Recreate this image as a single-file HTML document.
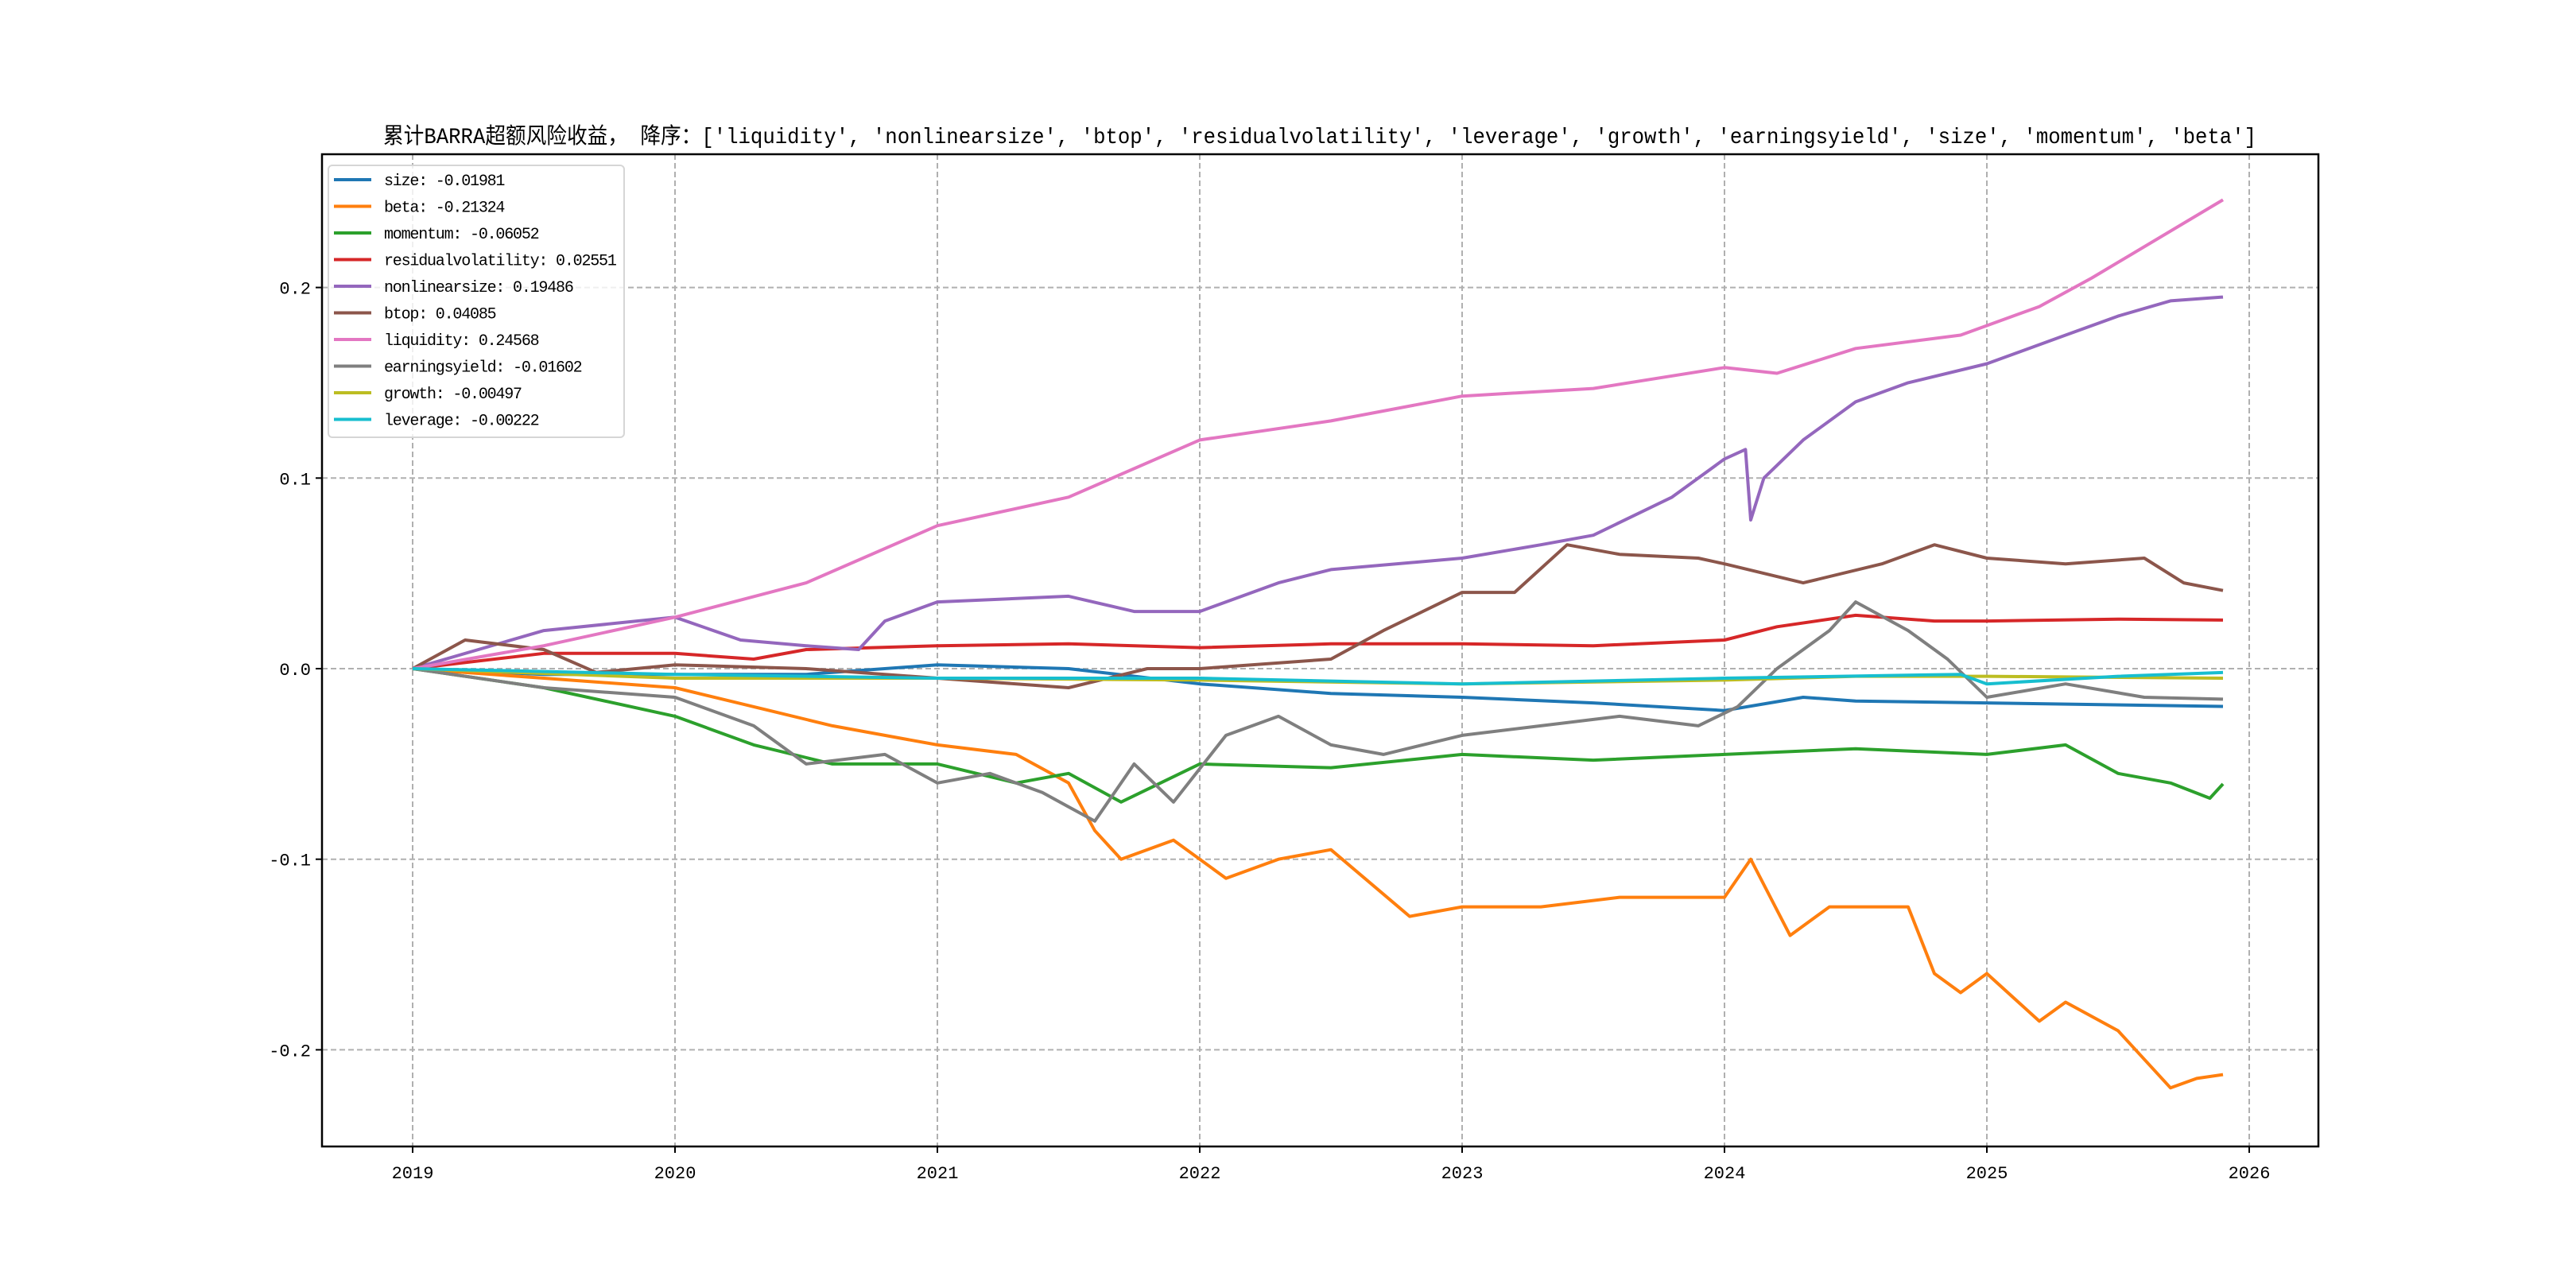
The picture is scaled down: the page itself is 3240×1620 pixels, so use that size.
<!DOCTYPE html>
<html><head><meta charset="utf-8">
<style>
html,body{margin:0;padding:0;background:#fff;}
svg{display:block;}
text{font-family:"Liberation Mono","Noto Sans CJK SC",monospace;fill:#000;}
</style></head>
<body>
<svg id="chart" width="3240" height="1620" viewBox="0 0 3240 1620" xmlns="http://www.w3.org/2000/svg">
<rect x="0" y="0" width="3240" height="1620" fill="#fff"/>
<text x="1660" y="180" text-anchor="middle" font-size="28" textLength="2356" lengthAdjust="spacingAndGlyphs" style="font-family:'Liberation Mono','Noto Sans CJK SC',sans-serif">累计BARRA超额风险收益，  降序：['liquidity', 'nonlinearsize', 'btop', 'residualvolatility', 'leverage', 'growth', 'earningsyield', 'size', 'momentum', 'beta']</text>
<g id="grid"></g>
<g id="series"></g>
<rect x="405" y="194" width="2511" height="1248" fill="none" stroke="#000" stroke-width="2.5"/>
<g id="axes"></g>
<g id="legend"></g>
</svg>
<script>
const xTicks = [2019,2020,2021,2022,2023,2024,2025,2026];
const yTicks = [-0.2,-0.1,0.0,0.1,0.2];
const yTickLabels = ["-0.2","-0.1","0.0","0.1","0.2"];
const seriesNames = ["size","beta","momentum","residualvolatility","nonlinearsize","btop","liquidity","earningsyield","growth","leverage"];
const seriesFinal = ["-0.01981","-0.21324","-0.06052","0.02551","0.19486","0.04085","0.24568","-0.01602","-0.00497","-0.00222"];
const seriesColors = ["#1f77b4","#ff7f0e","#2ca02c","#d62728","#9467bd","#8c564b","#e377c2","#7f7f7f","#bcbd22","#17becf"];

const sizeT=[2019,2019.5,2020,2020.5,2021,2021.5,2022,2022.5,2023,2023.5,2024,2024.3,2024.5,2025,2025.9];
const sizeV=[0,-0.003,-0.003,-0.003,0.002,0,-0.008,-0.013,-0.015,-0.018,-0.022,-0.015,-0.017,-0.018,-0.0198];
const betaT=[2019,2019.5,2020,2020.3,2020.6,2021,2021.3,2021.5,2021.6,2021.7,2021.9,2022.1,2022.3,2022.5,2022.8,2023,2023.3,2023.6,2024,2024.1,2024.25,2024.4,2024.7,2024.8,2024.9,2025,2025.2,2025.3,2025.5,2025.7,2025.8,2025.9];
const betaV=[0,-0.005,-0.01,-0.02,-0.03,-0.04,-0.045,-0.06,-0.085,-0.1,-0.09,-0.11,-0.1,-0.095,-0.13,-0.125,-0.125,-0.12,-0.12,-0.1,-0.14,-0.125,-0.125,-0.16,-0.17,-0.16,-0.185,-0.175,-0.19,-0.22,-0.215,-0.213];
const momT=[2019,2019.5,2020,2020.3,2020.6,2021,2021.3,2021.5,2021.7,2022,2022.5,2023,2023.5,2024,2024.5,2025,2025.3,2025.5,2025.7,2025.85,2025.9];
const momV=[0,-0.01,-0.025,-0.04,-0.05,-0.05,-0.06,-0.055,-0.07,-0.05,-0.052,-0.045,-0.048,-0.045,-0.042,-0.045,-0.04,-0.055,-0.06,-0.068,-0.0605];
const resT=[2019,2019.5,2020,2020.3,2020.5,2021,2021.5,2022,2022.5,2023,2023.5,2024,2024.2,2024.5,2024.8,2025,2025.5,2025.9];
const resV=[0,0.008,0.008,0.005,0.01,0.012,0.013,0.011,0.013,0.013,0.012,0.015,0.022,0.028,0.025,0.025,0.026,0.0255];
const nlsT=[2019,2019.5,2020,2020.25,2020.5,2020.7,2020.8,2021,2021.5,2021.75,2022,2022.3,2022.5,2023,2023.3,2023.5,2023.8,2024,2024.08,2024.1,2024.15,2024.3,2024.5,2024.7,2025,2025.3,2025.5,2025.7,2025.9];
const nlsV=[0,0.02,0.027,0.015,0.012,0.01,0.025,0.035,0.038,0.03,0.03,0.045,0.052,0.058,0.065,0.07,0.09,0.11,0.115,0.078,0.1,0.12,0.14,0.15,0.16,0.175,0.185,0.193,0.195];
const btopT=[2019,2019.2,2019.5,2019.7,2020,2020.5,2021,2021.5,2021.8,2022,2022.5,2022.7,2023,2023.2,2023.4,2023.6,2023.9,2024,2024.3,2024.6,2024.8,2025,2025.3,2025.6,2025.75,2025.9];
const btopV=[0,0.015,0.01,-0.002,0.002,0,-0.005,-0.01,0,0,0.005,0.02,0.04,0.04,0.065,0.06,0.058,0.055,0.045,0.055,0.065,0.058,0.055,0.058,0.045,0.041];
const liqT=[2019,2019.5,2020,2020.5,2021,2021.5,2022,2022.5,2023,2023.5,2024,2024.2,2024.5,2024.9,2025.2,2025.4,2025.9];
const liqV=[0,0.012,0.027,0.045,0.075,0.09,0.12,0.13,0.143,0.147,0.158,0.155,0.168,0.175,0.19,0.205,0.246];
const eyT=[2019,2019.5,2020,2020.3,2020.5,2020.8,2021,2021.2,2021.4,2021.6,2021.75,2021.9,2022.1,2022.3,2022.5,2022.7,2023,2023.3,2023.6,2023.9,2024.05,2024.2,2024.4,2024.5,2024.7,2024.85,2025,2025.3,2025.6,2025.9];
const eyV=[0,-0.01,-0.015,-0.03,-0.05,-0.045,-0.06,-0.055,-0.065,-0.08,-0.05,-0.07,-0.035,-0.025,-0.04,-0.045,-0.035,-0.03,-0.025,-0.03,-0.02,0,0.02,0.035,0.02,0.005,-0.015,-0.008,-0.015,-0.016];
const groT=[2019,2020,2021,2022,2023,2024,2024.5,2025,2025.9];
const groV=[0,-0.005,-0.005,-0.006,-0.008,-0.006,-0.004,-0.004,-0.005];
const levT=[2019,2020,2021,2022,2023,2024,2024.9,2025,2025.5,2025.9];
const levV=[0,-0.003,-0.005,-0.005,-0.008,-0.005,-0.003,-0.008,-0.004,-0.002];

const allT=[sizeT,betaT,momT,resT,nlsT,btopT,liqT,eyT,groT,levT];
const allV=[sizeV,betaV,momV,resV,nlsV,btopV,liqV,eyV,groV,levV];

const NS="http://www.w3.org/2000/svg";
const X0=405,X1=2916,Y0=194,Y1=1442;
function xs(t){return 519+(t-2019)*330;}
function ys(v){return 841-v*2397;}
function mk(tag,attrs,parent){const e=document.createElementNS(NS,tag);for(const k in attrs)e.setAttribute(k,attrs[k]);parent.appendChild(e);return e;}
const grid=document.getElementById('grid'),axes=document.getElementById('axes'),ser=document.getElementById('series'),leg=document.getElementById('legend');

xTicks.forEach(t=>{
  const x=xs(t);
  const g=mk('line',{x1:x,x2:x,y1:Y0,y2:Y1,stroke:'#b0b0b0','stroke-width':2,'stroke-dasharray':'7,4'},grid);
  
  
  const tk=mk('line',{x1:x,x2:x,y1:Y1,y2:Y1+8,stroke:'#000','stroke-width':2},axes);
  
  
  const lb=mk('text',{x:x,y:Y1+40,'text-anchor':'middle','font-size':22},axes);
  lb.textContent=String(t);
  
  
});
yTicks.forEach((v,i)=>{
  const y=ys(v);
  const g=mk('line',{x1:X0,x2:X1,y1:y,y2:y,stroke:'#b0b0b0','stroke-width':2,'stroke-dasharray':'7,4'},grid);
  
  
  const tk=mk('line',{x1:X0-8,x2:X0,y1:y,y2:y,stroke:'#000','stroke-width':2},axes);
  
  
  const lb=mk('text',{x:X0-14,y:y+8,'text-anchor':'end','font-size':22},axes);
  lb.textContent=yTickLabels[i];
  
  
});
allT.forEach((T,i)=>{
  const V=allV[i];
  const d=T.map((t,j)=>(j?'L':'M')+xs(t).toFixed(1)+','+ys(V[j]).toFixed(1)).join(' ');
  const p=mk('path',{d:d,fill:'none',stroke:seriesColors[i],'stroke-width':4,'stroke-linejoin':'round'},ser);
  
  
});
const box=mk('rect',{x:413,y:208,width:372,height:342,rx:5,fill:'#fff','fill-opacity':0.8,stroke:'#d6d6d6','stroke-width':2},leg);


seriesNames.forEach((n,i)=>{
  const y=226+i*33.5;
  const ln=mk('line',{x1:420,x2:467,y1:y,y2:y,stroke:seriesColors[i],'stroke-width':4},leg);
  
  
  const tx=mk('text',{x:483,y:y+7,'font-size':20,'letter-spacing':'-1.2'},leg);
  tx.textContent=n+': '+seriesFinal[i];
  
  
});
</script>
</body></html>
